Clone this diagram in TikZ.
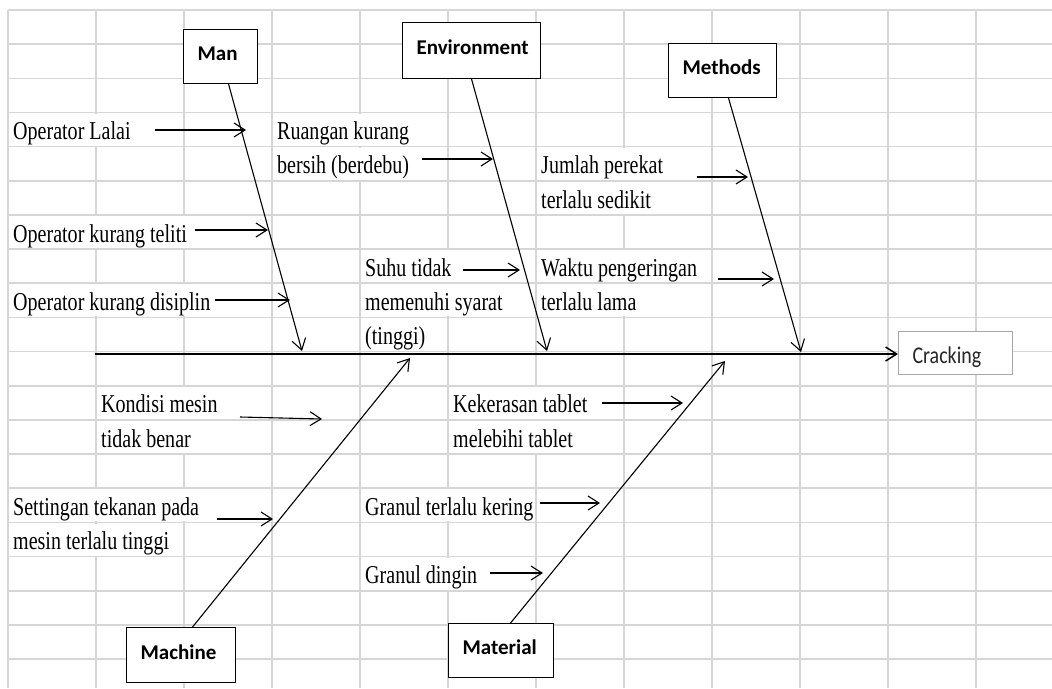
\documentclass[tikz,border=0pt]{standalone}
\usepackage{fontspec}
\usetikzlibrary{arrows.meta,calc}
\newfontfamily\causefont[FakeStretch=0.78]{Liberation Serif}
\newfontfamily\catfont{Carlito}
\newfontfamily\effectfont[FakeStretch=0.83]{Carlito}
\definecolor{gridgray}{HTML}{D6D6D6}
\definecolor{effectborder}{HTML}{A6A6A6}
\definecolor{effecttext}{HTML}{262626}

\begin{document}
\begin{tikzpicture}[x=1pt,y=-1pt,
  gridline/.style={draw=gridgray,line width=1.6pt},
  cause/.style={anchor=base west,fill=white,inner xsep=1pt,inner ysep=0pt,
    text height=26pt,text depth=6pt,
    font=\causefont\fontsize{25.7}{28}\selectfont},
  catbox/.style={draw=black,fill=white,line width=1.1pt,anchor=north west,
    inner xsep=14pt,inner ysep=0pt,align=left,text height=14pt,text depth=6pt,
    font=\catfont\bfseries\fontsize{21}{24}\selectfont},
  effectbox/.style={draw=effectborder,fill=white,line width=1.1pt,anchor=north west,
    inner xsep=14pt,inner ysep=0pt,align=left,text height=21pt,text depth=0pt,
    text=effecttext,font=\effectfont\fontsize{24}{28}\selectfont},
  tip/.style={-{Straight Barb[length=11pt,width=14pt]}},
  bone/.style={tip,line width=1.1pt},
  spine/.style={tip,line width=1.5pt},
  twig/.style={tip,line width=1.1pt}
]
\useasboundingbox (0,0) rectangle (1052,688);
\fill[white] (0,0) rectangle (1052,688);

% spreadsheet grid
\foreach \i in {0,...,11}
  \draw[gridline] ({8+88*\i},10) -- ({8+88*\i},688);
\foreach \k in {0,...,19}
  \draw[gridline] (8,{10+34.16*\k}) -- (1052,{10+34.16*\k});

% cause texts
\node[cause] (lalai)    at (12,139.6)  {Operator Lalai};
\node[cause] (ruang1)   at (276,139.6) {Ruangan kurang};
\node[cause] (ruang2)   at (276,173.8) {bersih (berdebu)};
\node[cause] (jumlah1)  at (540,173.8) {Jumlah perekat};
\node[cause] (jumlah2)  at (540,208)   {terlalu sedikit};
\node[cause] (teliti)   at (12,242.1)  {Operator kurang teliti};
\node[cause] (suhu1)    at (364,276.3) {Suhu tidak};
\node[cause] (waktu1)   at (540,276.3) {Waktu pengeringan};
\node[cause] (disiplin) at (12,310.4)  {Operator kurang disiplin};
\node[cause] (suhu2)    at (364,310.4) {memenuhi syarat};
\node[cause] (waktu2)   at (540,310.4) {terlalu lama};
\node[cause] (suhu3)    at (364,344.6) {(tinggi)};
\node[cause] (kondisi1) at (100,412.9) {Kondisi mesin};
\node[cause] (kondisi2) at (100,447.1) {tidak benar};
\node[cause] (keras1)   at (452,412.9) {Kekerasan tablet};
\node[cause] (keras2)   at (452,447.1) {melebihi tablet};
\node[cause] (setting1) at (12,515.4)  {Settingan tekanan pada};
\node[cause] (setting2) at (12,549.6)  {mesin terlalu tinggi};
\node[cause] (kering)   at (364,515.4) {Granul terlalu kering};
\node[cause] (dingin)   at (364,583.7) {Granul dingin};

% category boxes
\node[catbox,text width=46pt,minimum height=54pt]  (man)      at (183,29)  {Man};
\node[catbox,text width=110pt,minimum height=56pt] (env)      at (402,22)  {Environment};
\node[catbox,text width=80pt,minimum height=54pt]  (methods)  at (668,43)  {Methods};
\node[catbox,text width=81pt,minimum height=55pt]  (machine)  at (126,627) {Machine};
\node[catbox,text width=77pt,minimum height=54pt]  (material) at (448,623) {Material};
\node[effectbox,text width=86pt,minimum height=43pt] (crack)  at (898,331) {Cracking};

% spine
\coordinate (spineStart) at (95,354);
\draw[spine] (spineStart) -- (crack.west |- spineStart);

% main bones
\coordinate (manTip)  at (302,351);
\coordinate (envTip)  at (547,351);
\coordinate (methTip) at (801,352);
\coordinate (machTip) at (410,358);
\coordinate (matTip)  at (725,361);
\draw[bone] ($(man.south)+(8,0)$) -- (manTip);
\draw[bone] (env.south) -- (envTip);
\draw[bone] ($(methods.south)+(6,0)$) -- (methTip);
\draw[bone] ($(machine.north)+(11.5,0)$) -- (machTip);
\draw[bone] ($(material.north)+(9.5,0)$) -- (matTip);

% cause arrows
\coordinate (a1s) at (155,130);  \coordinate (a1e) at (246,130);
\coordinate (a2s) at (195,230);  \coordinate (a2e) at (268,230);
\coordinate (a3s) at (215,300);  \coordinate (a3e) at (290,300);
\coordinate (a4s) at (422,159);  \coordinate (a4e) at (493,159);
\coordinate (a5s) at (463,270);  \coordinate (a5e) at (520,270);
\coordinate (a6s) at (697,177);  \coordinate (a6e) at (748,177);
\coordinate (a7s) at (718,279);  \coordinate (a7e) at (774,279);
\coordinate (a8s) at (240,417);  \coordinate (a8e) at (322,419);
\coordinate (a9s) at (217,519);  \coordinate (a9e) at (273,519);
\coordinate (a10s) at (602,403); \coordinate (a10e) at (683,403);
\coordinate (a11s) at (540,503); \coordinate (a11e) at (600,503);
\coordinate (a12s) at (490,573); \coordinate (a12e) at (543,573);
\foreach \n in {1,...,12}
  \draw[twig] (a\n s) -- (a\n e);
\end{tikzpicture}
\end{document}
